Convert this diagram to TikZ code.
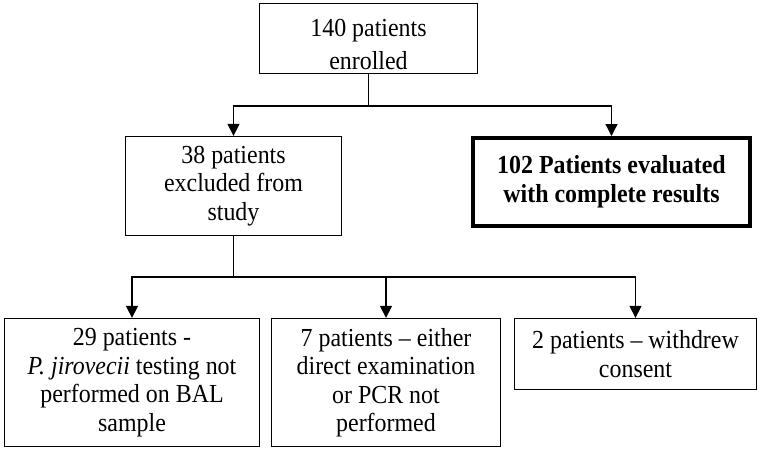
\documentclass[tikz,border=0pt]{standalone}
\usepackage{fontspec}
\setmainfont{Liberation Serif}[FakeStretch=0.92]
\usetikzlibrary{arrows.meta}
\begin{document}
\begin{tikzpicture}
    [
        stage/.style={rectangle, draw, line width=1.3pt, align=center, inner sep=0pt,
            font=\fontsize{26}{28.5}\selectfont},
        result/.style={stage, line width=4pt, font=\fontsize{26}{29}\selectfont\bfseries},
        flow/.style={line width=1.3pt, -{Triangle[length=12pt,width=12pt]}},
        x=1pt, y=-1pt,
    ]
    \useasboundingbox (0,0) rectangle (761,450);
    \node (enrolled) at (368.5,38.5) [stage, minimum width=218pt, minimum height=70pt,
        font=\fontsize{26}{33}\selectfont] {\rule{0pt}{30pt}140 patients\\enrolled};
    \node (excluded) at (233.5,186) [stage, minimum width=216pt, minimum height=99pt] {38 patients\\excluded from\\study};
    \node (evaluated) at (611.5,182) [result, minimum width=277pt, minimum height=88pt] {102 Patients evaluated\\with complete results};
    \node (notbal) at (132,382.5) [stage, minimum width=255pt, minimum height=128pt] {29 patients -\\\textit{P. jirovecii} testing not\\performed on BAL\\sample};
    \node (nopcr) at (386,382.5) [stage, minimum width=229pt, minimum height=128pt] {7 patients -- either\\direct examination\\or PCR not\\performed};
    \node (withdrew) at (635.5,354) [stage, minimum width=242pt, minimum height=71pt] {2 patients -- withdrew\\consent};
    \coordinate (split1) at (368.5,106);
    \coordinate (split2) at (233.5,277);
    \draw [line width=1.3pt] (enrolled) -- (split1);
    \draw [flow] (split1) -| (excluded);
    \draw [flow] (split1) -| (evaluated);
    \draw [line width=1.3pt] (excluded) -- (split2);
    \draw [flow] (split2) -| (notbal);
    \draw [flow] (split2) -| (nopcr);
    \draw [flow] (split2) -| (withdrew);
\end{tikzpicture}
\end{document}
